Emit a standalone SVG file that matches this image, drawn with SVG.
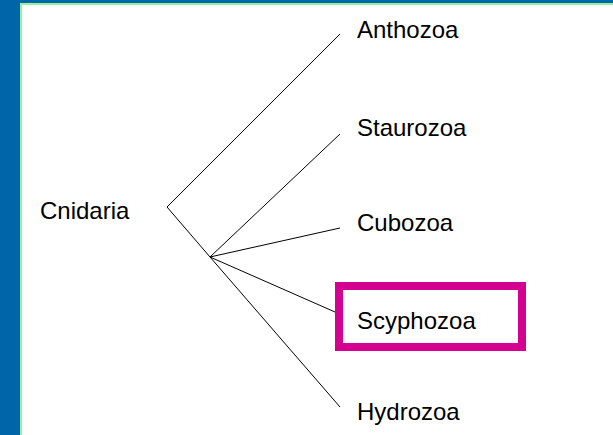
<svg xmlns="http://www.w3.org/2000/svg" width="613" height="435" viewBox="0 0 613 435">
<style>
text{font-family:"Liberation Sans",Arial,sans-serif;font-size:24px;fill:#000}
.edge{stroke:#000;stroke-width:1;fill:none}
</style>
<rect x="0" y="0" width="613" height="435" fill="#0066aa"/>
<rect x="21" y="4" width="600" height="440" fill="#ffffff" stroke="#99f099" stroke-width="2"/>
<g id="connectors">
<path class="edge" d="M340 34 L167 207 L210 257"/>
<line class="edge" x1="210" y1="257" x2="340" y2="134"/>
<line class="edge" x1="210" y1="257" x2="340" y2="228"/>
<line class="edge" x1="210" y1="257" x2="335" y2="312"/>
<line class="edge" x1="210" y1="257" x2="340" y2="407"/>
</g>
<g id="cnidaria"><text x="40" y="219">Cnidaria</text></g>
<g id="anthozoa"><text x="357" y="38">Anthozoa</text></g>
<g id="staurozoa"><text x="357" y="136">Staurozoa</text></g>
<g id="cubozoa"><text x="357" y="231">Cubozoa</text></g>
<g id="scyphozoa"><rect x="339" y="286" width="183" height="61" fill="#fff" stroke="#d4008f" stroke-width="8"/><text x="357" y="329">Scyphozoa</text></g>
<g id="hydrozoa"><text x="357" y="420">Hydrozoa</text></g>
</svg>
